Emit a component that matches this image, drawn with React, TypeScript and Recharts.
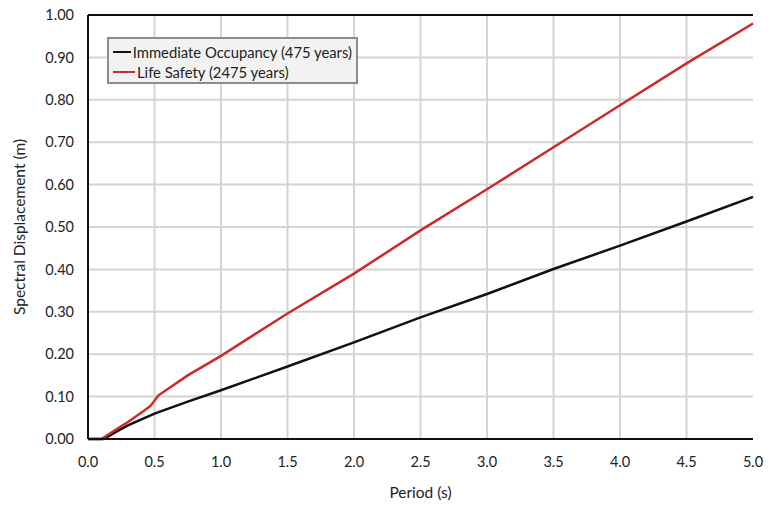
import React from 'react';
import { LineChart, Line, XAxis, YAxis, CartesianGrid, ReferenceLine, Label } from 'recharts';

const xTicks = [0, 0.5, 1, 1.5, 2, 2.5, 3, 3.5, 4, 4.5, 5];
const yTicks = [0, 0.1, 0.2, 0.3, 0.4, 0.5, 0.6, 0.7, 0.8, 0.9, 1];
// inner vertical gridlines only (no frame on the right side)
const xGrid = [0.5, 1, 1.5, 2, 2.5, 3, 3.5, 4, 4.5];

const ioPeriods = [0, 0.12, 0.2, 0.3, 0.5, 0.75, 1.0, 1.5, 2.0, 2.5, 3.0, 3.5, 4.0, 4.5, 5.0];
const ioValues = [0, 0, 0.015, 0.032, 0.06, 0.088, 0.115, 0.171, 0.228, 0.287, 0.342, 0.401, 0.456, 0.513, 0.571];

const lsPeriods = [0, 0.1, 0.2, 0.3, 0.4, 0.47, 0.53, 0.75, 1.0, 1.5, 2.0, 2.5, 3.0, 3.5, 4.0, 4.5, 5.0];
const lsValues = [0, 0, 0.02, 0.04, 0.062, 0.078, 0.103, 0.15, 0.196, 0.296, 0.39, 0.492, 0.589, 0.688, 0.787, 0.886, 0.98];

const ioData = ioPeriods.map((t, i) => ({ t, sd: ioValues[i] }));
const lsData = lsPeriods.map((t, i) => ({ t, sd: lsValues[i] }));

const series = [
  { name: 'Immediate Occupancy (475 years)', color: '#111111', data: ioData },
  { name: 'Life Safety (2475 years)', color: '#cc2a2a', data: lsData },
];

const tickFont = { fontFamily: 'Lato, "Open Sans", sans-serif', fontSize: 14.5, fill: '#222' };
const labelFont = { fontFamily: 'Lato, sans-serif', fontSize: 15.5, fill: '#222' };

const LegendBox = () => (
  <div style={{ position: 'absolute', left: 107, top: 37, width: 251, height: 47, boxSizing: 'border-box', background: '#f2f2f2', border: '2px solid #8c8c8c', padding: '3px 4px 0 4px' }}>
    {series.map((s) => (
      <div key={s.name} style={{ display: 'flex', alignItems: 'center', height: 20, whiteSpace: 'nowrap', fontFamily: 'Lato, sans-serif', fontSize: 14.8, color: '#222' }}>
        <span style={{ display: 'inline-block', width: 22, height: 2, background: s.color, marginRight: 2 }} />
        {s.name}
      </div>
    ))}
  </div>
);

export default function App() {
  return (
    <div style={{ position: 'absolute', left: 0, top: 0, width: 771, height: 506, background: '#fff' }}>
      <LineChart width={771} height={506} margin={{ top: 15, right: 18, left: 0, bottom: 0 }}>
        <CartesianGrid stroke="#d4d4d4" strokeWidth={2} vertical={false} />
        {xGrid.map((x) => (
          <ReferenceLine key={x} x={x} stroke="#d4d4d4" strokeWidth={2} />
        ))}
        <XAxis
          type="number"
          dataKey="t"
          domain={[0, 5]}
          ticks={xTicks}
          tickFormatter={(v: number) => v.toFixed(1)}
          tick={tickFont}
          tickLine={false}
          tickMargin={12}
          axisLine={{ stroke: '#111', strokeWidth: 2 }}
          height={67}
          allowDuplicatedCategory={false}
        >
          <Label value="Period (s)" position="insideBottom" offset={8} style={labelFont} />
        </XAxis>
        <YAxis
          type="number"
          domain={[0, 1]}
          ticks={yTicks}
          tickFormatter={(v: number) => v.toFixed(2)}
          tick={tickFont}
          tickLine={false}
          tickMargin={8}
          axisLine={{ stroke: '#111', strokeWidth: 2 }}
          width={88}
        >
          <Label value="Spectral Displacement (m)" angle={-90} position="insideLeft" offset={19} style={{ ...labelFont, textAnchor: 'middle' }} />
        </YAxis>
        <ReferenceLine y={1} stroke="#111" strokeWidth={2} />
        {series.map((s) => (
          <Line
            key={s.name}
            data={s.data}
            dataKey="sd"
            name={s.name}
            type="linear"
            stroke={s.color}
            strokeWidth={2.5}
            dot={false}
            isAnimationActive={false}
          />
        ))}
      </LineChart>
      <LegendBox />
    </div>
  );
}
